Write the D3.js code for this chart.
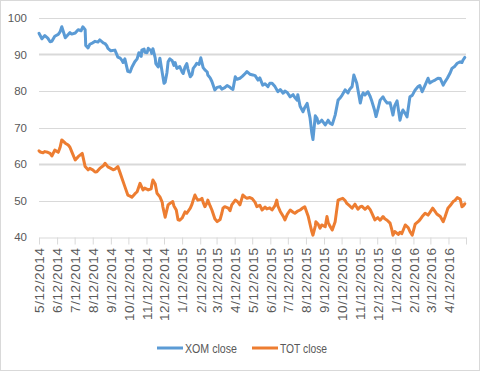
<!DOCTYPE html>
<html>
<head>
<meta charset="utf-8">
<script src="https://cdn.jsdelivr.net/npm/d3@7"></script>
<style>
  html, body { margin: 0; padding: 0; background: #fff; }
  svg { display: block; }
</style>
</head>
<body>
<svg id="chart" width="480" height="371"></svg>
<script>
// ---------- DATA ----------
const seriesNames = ["XOM close", "TOT close"];
const seriesColors = ["#5b9bd5", "#ed7d31"];

const tickLabels = ["5/12/2014","6/12/2014","7/12/2014","8/12/2014","9/12/2014","10/12/2014","11/12/2014","12/12/2014",
  "1/12/2015","2/12/2015","3/12/2015","4/12/2015","5/12/2015","6/12/2015","7/12/2015","8/12/2015","9/12/2015","10/12/2015",
  "11/12/2015","12/12/2015","1/12/2016","2/12/2016","3/12/2016","4/12/2016"];
const axisEnd = "5/12/2016";
const yTicks = [40, 50, 60, 70, 80, 90, 100];

const xomDates = ["2014-05-12","2014-05-17","2014-05-22","2014-05-27","2014-05-31","2014-06-03","2014-06-08","2014-06-14","2014-06-17","2014-06-20",
"2014-06-26","2014-07-01","2014-07-04","2014-07-07","2014-07-13","2014-07-18","2014-07-23","2014-07-26","2014-07-30","2014-07-31",
"2014-08-04","2014-08-07","2014-08-12","2014-08-16","2014-08-21","2014-08-24","2014-08-30","2014-09-02","2014-09-05","2014-09-07",
"2014-09-12","2014-09-19","2014-09-24","2014-09-28","2014-10-01","2014-10-03","2014-10-06","2014-10-11","2014-10-15","2014-10-18",
"2014-10-23","2014-10-27","2014-10-30","2014-11-03","2014-11-04","2014-11-08","2014-11-09","2014-11-13","2014-11-15","2014-11-20",
"2014-11-21","2014-11-23","2014-11-27","2014-11-28","2014-12-02","2014-12-05","2014-12-09","2014-12-12","2014-12-14","2014-12-17",
"2014-12-19","2014-12-22","2014-12-26","2014-12-29","2014-12-31","2015-01-03","2015-01-08","2015-01-12","2015-01-14","2015-01-17",
"2015-01-20","2015-01-22","2015-01-26","2015-01-29","2015-01-31","2015-02-03","2015-02-06","2015-02-10","2015-02-13","2015-02-17",
"2015-02-20","2015-02-24","2015-02-25","2015-03-01","2015-03-04","2015-03-09","2015-03-13","2015-03-18","2015-03-21","2015-03-26",
"2015-03-30","2015-04-04","2015-04-07","2015-04-09","2015-04-13","2015-04-16","2015-04-21","2015-04-25","2015-04-30","2015-05-03",
"2015-05-08","2015-05-13","2015-05-17","2015-05-22","2015-05-25","2015-05-30","2015-06-03","2015-06-08","2015-06-11","2015-06-15",
"2015-06-20","2015-06-25","2015-06-29","2015-07-04","2015-07-07","2015-07-11","2015-07-16","2015-07-21","2015-07-24","2015-07-28",
"2015-07-29","2015-08-02","2015-08-07","2015-08-10","2015-08-14","2015-08-19","2015-08-22","2015-08-24","2015-08-28","2015-08-31",
"2015-09-02","2015-09-05","2015-09-08","2015-09-14","2015-09-19","2015-09-22","2015-09-26","2015-10-01","2015-10-06","2015-10-09",
"2015-10-13","2015-10-18","2015-10-23","2015-10-26","2015-10-30","2015-11-02","2015-11-07","2015-11-13","2015-11-16","2015-11-18",
"2015-11-21","2015-11-26","2015-11-30","2015-12-03","2015-12-07","2015-12-10","2015-12-13","2015-12-17","2015-12-22","2015-12-25",
"2015-12-29","2016-01-03","2016-01-08","2016-01-11","2016-01-15","2016-01-20","2016-01-23","2016-01-25","2016-01-29","2016-02-01",
"2016-02-06","2016-02-10","2016-02-15","2016-02-20","2016-02-23","2016-02-27","2016-03-03","2016-03-08","2016-03-11","2016-03-15",
"2016-03-20","2016-03-25","2016-03-29","2016-04-03","2016-04-06","2016-04-10","2016-04-15","2016-04-18","2016-04-23","2016-04-27",
"2016-05-02","2016-05-05","2016-05-07","2016-05-10"];
const xomValues = [95.8,94.3,95.2,94.5,93.5,93.6,95.0,95.5,96.2,97.6,
94.6,95.5,96.0,95.6,95.9,96.8,96.5,97.6,96.8,92.5,
91.8,92.8,93.2,93.6,93.4,94.0,93.2,93.0,92.4,91.7,
91.0,91.2,89.3,89.0,88.4,87.8,88.8,85.4,85.2,86.5,
88.0,88.8,90.5,89.5,91.2,91.5,90.6,90.5,91.7,91.0,
90.3,91.6,89.0,87.5,86.6,89.0,85.0,82.1,82.4,85.0,
88.0,88.8,88.3,87.0,87.8,86.2,86.7,85.2,84.8,86.6,
87.5,86.0,83.9,84.5,86.2,86.8,87.6,87.3,89.1,86.4,
85.8,85.2,84.4,83.6,82.6,80.3,81.0,81.2,80.5,80.9,
81.5,81.0,80.6,80.4,83.9,83.2,83.5,84.0,84.8,85.3,
84.6,84.4,84.2,83.0,83.6,81.6,82.0,81.2,82.1,82.1,
81.2,79.8,80.4,79.4,80.0,79.6,78.4,79.0,78.2,77.5,
79.0,75.8,74.3,75.5,76.6,72.6,68.5,66.7,73.2,72.5,
71.2,71.5,72.0,70.7,72.0,71.2,70.8,73.4,77.5,78.0,
78.9,80.3,79.5,80.5,81.2,84.4,82.1,76.7,78.8,79.5,
78.9,79.8,78.5,77.1,75.0,73.0,74.8,77.5,78.4,77.5,
76.7,76.8,73.4,76.0,77.3,72.0,74.0,74.8,73.8,72.9,
78.4,78.8,80.3,81.2,81.5,79.8,81.6,83.5,82.2,82.6,
83.0,83.5,83.4,81.6,82.5,83.5,85.0,86.2,86.8,87.6,
88.0,87.8,88.5,89.2];

const totDates = ["2014-05-12","2014-05-14","2014-05-19","2014-05-22","2014-05-27","2014-05-31","2014-06-03","2014-06-08","2014-06-14","2014-06-17",
"2014-06-20","2014-06-26","2014-07-01","2014-07-04","2014-07-07","2014-07-13","2014-07-18","2014-07-25","2014-07-30","2014-08-04",
"2014-08-07","2014-08-12","2014-08-16","2014-08-19","2014-08-24","2014-08-30","2014-09-02","2014-09-07","2014-09-12","2014-09-16",
"2014-09-19","2014-09-24","2014-09-28","2014-10-01","2014-10-06","2014-10-11","2014-10-15","2014-10-18","2014-10-23","2014-10-27",
"2014-11-01","2014-11-06","2014-11-09","2014-11-15","2014-11-20","2014-11-21","2014-11-23","2014-11-27","2014-11-30","2014-12-05",
"2014-12-09","2014-12-10","2014-12-14","2014-12-17","2014-12-19","2014-12-22","2014-12-27","2014-12-29","2015-01-02","2015-01-05",
"2015-01-08","2015-01-12","2015-01-17","2015-01-20","2015-01-26","2015-01-29","2015-01-31","2015-02-03","2015-02-06","2015-02-08",
"2015-02-13","2015-02-15","2015-02-17","2015-02-20","2015-02-24","2015-02-25","2015-03-01","2015-03-04","2015-03-09","2015-03-13",
"2015-03-18","2015-03-21","2015-03-23","2015-03-26","2015-04-01","2015-04-04","2015-04-07","2015-04-13","2015-04-16","2015-04-18",
"2015-04-21","2015-04-26","2015-04-30","2015-05-03","2015-05-08","2015-05-12","2015-05-17","2015-05-20","2015-05-25","2015-05-29",
"2015-06-03","2015-06-06","2015-06-11","2015-06-15","2015-06-20","2015-06-23","2015-06-25","2015-06-29","2015-07-04","2015-07-07",
"2015-07-11","2015-07-16","2015-07-21","2015-07-24","2015-07-28","2015-08-02","2015-08-07","2015-08-10","2015-08-16","2015-08-19",
"2015-08-22","2015-08-24","2015-08-28","2015-08-29","2015-09-02","2015-09-05","2015-09-08","2015-09-14","2015-09-17","2015-09-19",
"2015-09-22","2015-09-26","2015-10-01","2015-10-06","2015-10-09","2015-10-14","2015-10-18","2015-10-21","2015-10-26","2015-10-30",
"2015-11-04","2015-11-09","2015-11-13","2015-11-16","2015-11-21","2015-11-26","2015-11-30","2015-12-03","2015-12-08","2015-12-13",
"2015-12-17","2015-12-22","2015-12-25","2015-12-29","2016-01-03","2016-01-06","2016-01-08","2016-01-11","2016-01-17","2016-01-20",
"2016-01-23","2016-01-29","2016-02-03","2016-02-06","2016-02-10","2016-02-15","2016-02-20","2016-02-23","2016-02-27","2016-03-03",
"2016-03-08","2016-03-11","2016-03-16","2016-03-20","2016-03-23","2016-03-29","2016-04-03","2016-04-06","2016-04-11","2016-04-15",
"2016-04-20","2016-04-23","2016-04-27","2016-05-02","2016-05-05","2016-05-07","2016-05-10"];
const totValues = [63.6,63.3,63.1,63.4,63.2,62.9,62.2,63.8,63.2,64.5,
66.6,65.7,65.2,64.6,63.4,61.1,62.0,62.9,59.3,58.4,
58.8,58.4,57.8,57.9,58.8,59.5,60.2,59.2,58.8,58.4,
58.6,59.3,57.5,56.1,53.8,51.5,51.2,50.9,51.8,52.4,
54.7,52.9,53.4,52.9,53.2,54.2,55.6,54.5,52.0,51.0,
49.5,48.3,45.4,47.5,48.8,49.2,49.7,48.5,47.4,44.7,
44.6,45.2,46.9,46.5,47.9,49.0,50.1,51.5,50.5,50.1,
50.3,50.6,49.5,48.3,49.5,50.1,48.5,47.4,45.0,44.2,
44.8,46.5,47.9,48.3,47.9,47.2,48.8,50.1,49.8,49.5,
48.8,51.5,50.9,50.6,50.8,50.5,49.5,48.3,48.7,47.4,
48.2,47.7,48.0,47.4,48.6,50.1,48.5,47.0,45.7,44.7,
46.2,47.4,46.8,46.5,47.0,47.4,48.0,48.3,45.6,43.5,
41.5,40.5,43.0,44.2,43.5,42.4,43.3,42.8,45.6,44.0,
43.0,41.9,44.2,50.1,50.3,50.6,50.0,49.2,48.5,47.9,
49.0,47.6,48.3,48.4,47.6,48.3,47.5,46.5,44.7,45.3,
44.6,45.6,45.0,44.6,43.8,42.0,40.5,41.5,40.7,41.3,
40.9,43.3,42.6,41.5,40.5,43.5,44.2,44.7,45.6,46.5,
46.0,46.7,47.9,47.0,46.3,45.6,44.2,45.5,47.9,48.6,
49.7,50.0,50.8,50.4,48.3,48.5,49.1];

// ---------- CHART ----------
const W = 480, H = 371;
const plot = { left: 39, right: 466, top: 18, bottom: 237 };
const parseISO = d3.timeParse("%Y-%m-%d");
const parseMDY = d3.timeParse("%m/%d/%Y");

const svg = d3.select("#chart");
const textColor = "#595959";
const gridColor = "#d9d9d9";

// chart border
svg.append("rect").attr("x", 0.5).attr("y", 0.5).attr("width", W - 1).attr("height", H - 1)
  .attr("fill", "#fff").attr("stroke", "#d9d9d9").attr("stroke-width", 1);

const x = d3.scaleTime()
  .domain([parseMDY(tickLabels[0]), parseMDY(axisEnd)])
  .range([plot.left, plot.right]);
const y = d3.scaleLinear().domain([40, 100]).range([plot.bottom, plot.top]);

// gridlines
svg.append("g").selectAll("line").data(yTicks.filter(v => v !== 40)).join("line")
  .attr("x1", plot.left).attr("x2", plot.right)
  .attr("y1", d => Math.round(y(d)) + 0.5).attr("y2", d => Math.round(y(d)) + 0.5)
  .attr("stroke", gridColor)
  .attr("stroke-width", d => (d === 90 || d === 60) ? 2 : 1);

// y axis labels
const yAxis = d3.axisLeft(y).tickValues(yTicks).tickSize(0).tickPadding(0);
const gy = svg.append("g").attr("transform", `translate(27,0)`).call(yAxis);
gy.select(".domain").remove();
gy.selectAll("text").attr("fill", textColor)
  .style("font-family", "'Liberation Sans', Arial, sans-serif").style("font-size", "11.5px");

// x axis
const tickDates = tickLabels.map(parseMDY).concat([parseMDY(axisEnd)]);
const labelMap = new Map(tickLabels.map(s => [+parseMDY(s), s]));
const xAxis = d3.axisBottom(x).tickValues(tickDates)
  .tickFormat(d => labelMap.get(+d) || "").tickSize(7).tickSizeOuter(0);
const gx = svg.append("g").attr("transform", `translate(0,${plot.bottom + 0.5})`).call(xAxis);
gx.select(".domain").attr("stroke", gridColor);
gx.selectAll(".tick line").attr("stroke", gridColor);
gx.selectAll(".tick text")
  .attr("fill", textColor)
  .style("font-family", "'Liberation Sans', Arial, sans-serif")
  .style("font-size", "13.5px")
  .style("letter-spacing", "0.6px")
  .attr("text-anchor", "end")
  .attr("transform", "translate(0,10) rotate(-90)")
  .attr("x", 0).attr("y", 0).attr("dx", 0).attr("dy", "0.36em");

// lines
const series = [
  { dates: xomDates, values: xomValues },
  { dates: totDates, values: totValues }
];
const line = d3.line().x(d => x(d[0])).y(d => y(d[1])).curve(d3.curveLinear);
series.forEach((s, i) => {
  const pts = s.dates.map((d, j) => [parseISO(d), s.values[j]]);
  svg.append("path").datum(pts)
    .attr("fill", "none").attr("stroke", seriesColors[i])
    .attr("stroke-width", 3).attr("stroke-linejoin", "round").attr("stroke-linecap", "round")
    .attr("d", line);
});

// legend
const legendX = [157, 252];
const legendTextW = [52, 47];
const lg = svg.append("g");
seriesNames.forEach((name, i) => {
  lg.append("line").attr("x1", legendX[i]).attr("x2", legendX[i] + 26)
    .attr("y1", 348).attr("y2", 348).attr("stroke", seriesColors[i]).attr("stroke-width", 3);
  lg.append("text").attr("x", legendX[i] + 28).attr("y", 348).attr("dy", "0.36em")
    .attr("fill", textColor)
    .style("font-family", "'Liberation Sans', Arial, sans-serif")
    .style("font-size", "13.5px")
    .attr("textLength", legendTextW[i])
    .attr("lengthAdjust", "spacingAndGlyphs")
    .text(name);
});
</script>
</body>
</html>
